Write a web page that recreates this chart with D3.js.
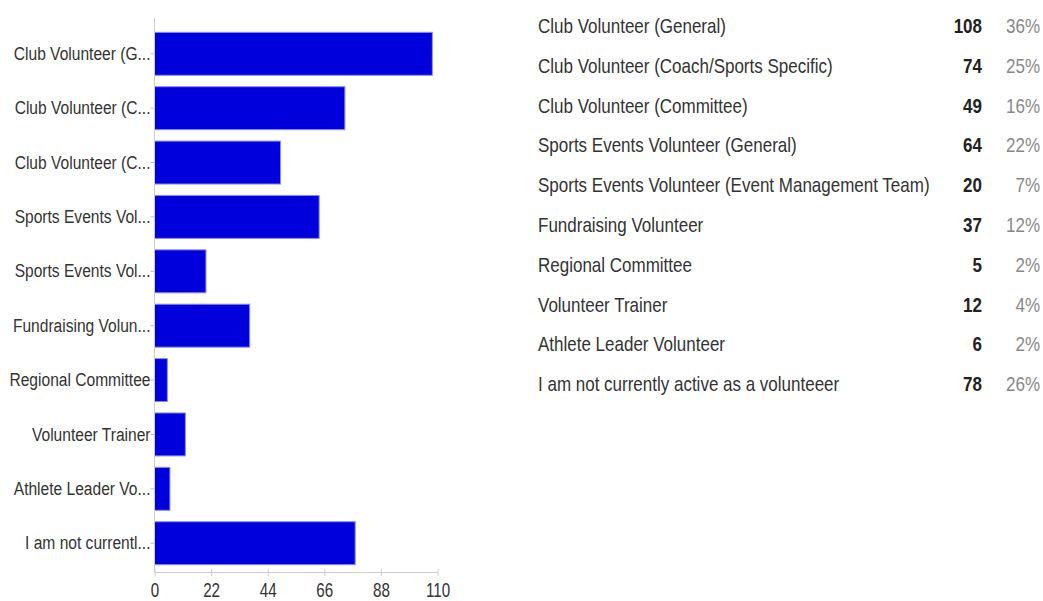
<!DOCTYPE html>
<html>
<head>
<meta charset="utf-8">
<script src="https://cdn.jsdelivr.net/npm/d3@7"></script>
<style>
  body { margin: 0; background: #fff; }
  svg text { font-family: "Liberation Sans", Arial, sans-serif; }
</style>
</head>
<body>
<svg width="1043" height="601"></svg>
<script>
// answers, full text and the truncated axis labels
var categories = [
  "Club Volunteer (General)",
  "Club Volunteer (Coach/Sports Specific)",
  "Club Volunteer (Committee)",
  "Sports Events Volunteer (General)",
  "Sports Events Volunteer (Event Management Team)",
  "Fundraising Volunteer",
  "Regional Committee",
  "Volunteer Trainer",
  "Athlete Leader Volunteer",
  "I am not currently active as a volunteeer"
];
var shortLabels = [
  "Club Volunteer (G...",
  "Club Volunteer (C...",
  "Club Volunteer (C...",
  "Sports Events Vol...",
  "Sports Events Vol...",
  "Fundraising Volun...",
  "Regional Committee",
  "Volunteer Trainer",
  "Athlete Leader Vo...",
  "I am not currentl..."
];
var counts = [108, 74, 49, 64, 20, 37, 5, 12, 6, 78];
var percents = ["36%", "25%", "16%", "22%", "7%", "12%", "2%", "4%", "2%", "26%"];
var xTicks = [0, 22, 44, 66, 88, 110];

var svg = d3.select("svg");

// the picture has narrow, tall text: squeeze it sideways
var sxLeft = 0.82, sxTick = 0.76, sxTable = 0.85;

var left = 154.5,
  chartW = 283,
  axisY = 572;

var x = d3.scaleLinear().domain([0, 110]).range([0, chartW]);
var y = d3.scaleBand().domain(d3.range(categories.length))
  .range([22, 575]).paddingInner(0.21).paddingOuter(0.19);

var g = svg.append("g").attr("transform", "translate(" + left + ",0)");

// bars
g.selectAll(".bar")
  .data(counts)
  .enter().append("rect")
  .attr("class", "bar")
  .attr("x", 0)
  .attr("y", function (d, i) { return y(i); })
  .attr("width", function (d) { return x(d); })
  .attr("height", y.bandwidth())
  .attr("fill", "#0000dc")
  .attr("stroke", "#8c8cf5")
  .attr("stroke-width", 1);

// left axis
var yAxis = g.append("g")
  .call(d3.axisLeft(y).tickSize(4).tickFormat(function (i) { return shortLabels[i]; }));
yAxis.select(".domain").attr("stroke", "#ccc").attr("d", "M0,18V" + axisY);
yAxis.selectAll(".tick line").attr("stroke", "#bbb");
yAxis.selectAll(".tick text")
  .attr("x", -4 / sxLeft)
  .attr("transform", "scale(" + sxLeft + ",1)")
  .attr("fill", "#333")
  .style("font-size", "19px");

// bottom axis
var xAxis = g.append("g")
  .attr("transform", "translate(0," + axisY + ")")
  .call(d3.axisBottom(x).tickValues(xTicks).tickSize(5).tickSizeOuter(0));
xAxis.select(".domain").attr("stroke", "#ccc");
xAxis.selectAll(".tick line").attr("stroke", "#ccc").attr("y1", -3).attr("y2", 4);
xAxis.selectAll(".tick text")
  .attr("y", 18)
  .attr("dy", "0.35em")
  .attr("transform", "scale(" + sxTick + ",1)")
  .attr("fill", "#333")
  .style("font-size", "20px");

// summary table on the right
var rowY = d3.scaleBand().domain(d3.range(categories.length)).range([6, 404]);

var rows = svg.append("g").selectAll(".row")
  .data(categories)
  .enter().append("g")
  .attr("class", "row")
  .attr("transform", function (d, i) { return "translate(0," + (rowY(i) + rowY.bandwidth() / 2) + ")"; });

function cell(sel, xPos) {
  return sel.append("text")
    .attr("transform", "translate(" + xPos + ",0) scale(" + sxTable + ",1)")
    .attr("dy", "0.35em")
    .style("font-size", "20px");
}

cell(rows, 538)
  .attr("fill", "#333")
  .text(function (d) { return d; });

cell(rows, 982)
  .attr("text-anchor", "end")
  .attr("fill", "#222")
  .style("font-weight", "bold")
  .text(function (d, i) { return counts[i]; });

cell(rows, 1040)
  .attr("text-anchor", "end")
  .attr("fill", "#888")
  .text(function (d, i) { return percents[i]; });
</script>
</body>
</html>
